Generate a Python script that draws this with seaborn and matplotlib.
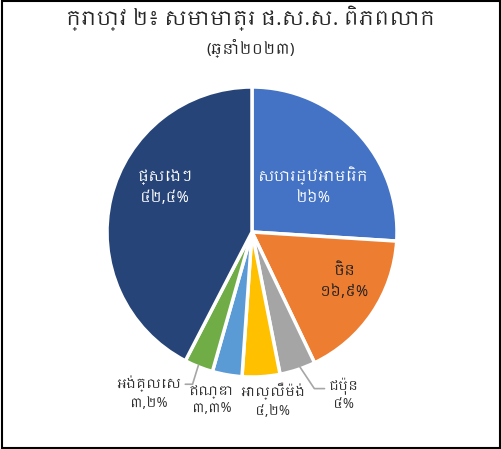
import matplotlib
matplotlib.use("Agg")
import matplotlib.pyplot as plt
from matplotlib import font_manager
from matplotlib.patches import Rectangle
import seaborn as sns

# data
countries = ["សហរដ្ឋអាមេរិក", "ចិន", "ជប៉ុន", "អាល្លឺម៉ង់", "ឥណ្ឌា", "អង់គ្លេស", "ផ្សេងៗ"]
shares = [26.0, 16.9, 4.0, 4.2, 3.3, 3.2, 42.4]
share_labels = ["២៦%", "១៦,៩%", "៤%", "៤,២%", "៣,៣%", "៣,២%", "៤២,៤%"]
colors = ["#4472C4", "#ED7D31", "#A5A5A5", "#FFC000", "#5B9BD5", "#70AD47", "#264478"]
title = "ក្រាហ្វ ២៖ សមាមាត្រ ផ.ស.ស. ពិភពលោក"
subtitle = "(ឆ្នាំ២០២៣)"

sns.set_style("white")
khmer = sorted(set(f.name for f in font_manager.fontManager.ttflist if "khmer" in f.name.lower()))
plt.rcParams["font.family"] = khmer + ["Noto Sans", "DejaVu Sans"]

fig = plt.figure(figsize=(5.02, 4.49), dpi=100)
ax = fig.add_axes([0, 0, 1, 1])

wedges, _ = ax.pie(shares, colors=colors, startangle=90, counterclock=False,
                   radius=1.0, wedgeprops=dict(edgecolor="white", linewidth=2.5))

# axes limits so the pie sits where it does in the reference (145 px per unit)
scale = 145.0
cx, cy = 252.0, 232.0
ax.set_xlim(-cx / scale, (502 - cx) / scale)
ax.set_ylim((cy - 449) / scale, cy / scale)
ax.set_aspect("equal")
ax.axis("off")

# label placement: (x, y, text colour, size)
label_pos = [(0.42, 0.32, "white", 10.5), (0.64, -0.34, "#222222", 10.5),
             (0.63, -1.12, "#333333", 9.5), (0.14, -1.16, "#333333", 9.5),
             (-0.28, -1.16, "#333333", 9.5), (-0.71, -1.11, "#333333", 9.5),
             (-0.60, 0.31, "white", 10.5)]
for name, lab, (x, y, c, fs) in zip(countries, share_labels, label_pos):
    ax.text(x, y, name + "\n" + lab, ha="center", va="center", color=c,
            fontsize=fs, linespacing=1.5)

# leader lines for the small outside slices
line_kw = dict(color="#A6A6A6", lw=1.2)
ax.plot([0.33, 0.43, 0.50], [-0.93, -1.08, -1.08], **line_kw)
ax.plot([-0.37, -0.41, -0.46], [-0.92, -1.05, -1.05], **line_kw)

fig.text(0.5, 1 - 18 / 449, title, ha="center", va="center", fontsize=14.5, fontweight="bold")
fig.text(0.5, 1 - 48 / 449, subtitle, ha="center", va="center", fontsize=11)

fig.patches.append(Rectangle((0.004, 0.003), 0.992, 0.994, transform=fig.transFigure,
                             fill=False, edgecolor="black", lw=1.5))

fig.savefig("out.png", dpi=100)
